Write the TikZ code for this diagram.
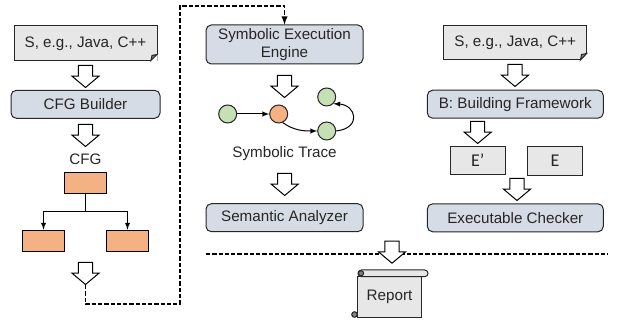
\documentclass[tikz,border=0pt]{standalone}
\usepackage{fontspec}
\setmainfont{Liberation Sans}
\newfontfamily\calibrifont{Carlito}
\usetikzlibrary{shapes.arrows}
\definecolor{linegray}{HTML}{262626}
\definecolor{docgray}{HTML}{E7E7E7}
\definecolor{boxblue}{HTML}{D6DCE5}
\definecolor{cfgorange}{HTML}{F4B183}
\definecolor{tracegreen}{HTML}{C5E0B4}
\tikzset{
  every node/.style={inner sep=0pt, text=linegray, font=\fontsize{11.4}{14}\selectfont},
  shortdash/.style={line width=1.1pt, dash pattern=on 3.2pt off 1.5pt},
  docbox/.style={shape=rectangle, draw=linegray, fill=docgray, minimum width=107.25pt, minimum height=26pt},
  stagebox/.style={shape=rectangle, rounded corners=4pt, draw=linegray, fill=boxblue, minimum height=21pt, align=center},
  cfgbox/.style={shape=rectangle, draw=black, fill=cfgorange, minimum width=31.5pt, minimum height=16pt},
  envbox/.style={shape=rectangle, draw=linegray, fill=docgray, minimum width=41pt, minimum height=21.3pt, font=\calibrifont\fontsize{13.5}{14}\selectfont},
  tracenode/.style={shape=circle, draw=linegray, fill=tracegreen, minimum size=13.5pt},
  bigarrow/.style={shape=single arrow, shape border rotate=270, draw=black, fill=white, anchor=tail, inner sep=4.9pt,
    minimum height=16.5pt, minimum width=19.5pt, single arrow head extend=4.9pt, single arrow tip angle=100},
}
\begin{document}
\begin{tikzpicture}[line width=0.75pt, x=0.75pt, y=-0.75pt, >=latex]
    \useasboundingbox (0, 0) rectangle (623, 323);

    % left column
    \node[docbox] (sourceA) at (85.5, 43.3) {S, e.g., Java, C++};
    \fill[white] (157.7, 54) -- (157.7, 61.5) -- (150, 61.5) -- cycle;
    \draw[linegray, fill=gray] (157, 54.5) -- (151, 60.5) -- (152, 55.5) -- cycle;
    \node[bigarrow] (arrowA) at (85.5, 65) {};
    \node[stagebox, minimum width=111.75pt] (builder) at (85.5, 104.3) {CFG Builder};
    \node[bigarrow] (arrowB) at (85.5, 124) {};
    \node (cfg) at (85.5, 159) {CFG};
    \node[cfgbox] (cfgtop) at (85.5, 183.3) {};
    \node[cfgbox] (cfgleft) at (43.5, 240.8) {};
    \node[cfgbox] (cfgright) at (127.5, 240.8) {};
    \coordinate (branch) at (85.5, 212);
    \draw (cfgtop) -- (branch);
    \draw[->] (branch) -| (cfgleft.north);
    \draw[->] (branch) -| (cfgright.north);
    \node[bigarrow] (arrowC) at (85.5, 262) {};

    % dashed link to the middle column
    \coordinate (turnA) at (180, 304);
    \coordinate (turnB) at (180, 6);

    % middle column
    \node[stagebox, minimum width=117.75pt, minimum height=29.25pt] (engine) at (284.5, 44.5) {Symbolic Execution\\Engine};
    \draw[->, shortdash] (arrowC.tip) |- (turnA) -- (turnB) -| (engine.north);
    \node[bigarrow] (arrowD) at (284.5, 75) {};
    \node[tracenode] (traceA) at (227.7, 114) {};
    \node[tracenode, fill=cfgorange] (traceB) at (278.7, 114) {};
    \node[tracenode] (traceC) at (326.7, 131) {};
    \node[tracenode] (traceD) at (326.7, 97) {};
    \draw[->] (traceA) edge (traceB);
    \draw[->] (traceB.-65) to[out=-35, in=180] (traceC.west);
    \draw[->] (traceC.east) .. controls (362, 128) and (356, 105) .. (traceD.south east);
    \node (trace) at (284.5, 154) {Symbolic Trace};
    \node[bigarrow] (arrowE) at (284.7, 173) {};
    \node[stagebox, minimum width=117.75pt] (analyzer) at (284.5, 217.7) {Semantic Analyzer};

    % right column
    \node[docbox] (sourceB) at (515.2, 42.5) {S, e.g., Java, C++};
    \fill[white] (587.4, 53) -- (587.4, 60.7) -- (579.5, 60.7) -- cycle;
    \draw[linegray, fill=gray] (586.7, 53.5) -- (580.5, 60) -- (581.5, 54.5) -- cycle;
    \node[bigarrow] (arrowF) at (515, 64) {};
    \node[stagebox, minimum width=132pt] (framework) at (515.3, 104.2) {B: Building Framework};
    \node[bigarrow] (arrowG) at (477.7, 121) {};
    \node[envbox] (edited) at (477.7, 160.5) {E’};
    \node[envbox] (original) at (555, 161.2) {E};
    \node[bigarrow] (arrowH) at (517, 178) {};
    \node[stagebox, minimum width=132pt] (checker) at (515.3, 217.8) {Executable Checker};

    % report
    \coordinate (ruleA) at (206, 254);
    \coordinate (ruleB) at (608, 254);
    \draw[shortdash] (ruleA) -- (ruleB);
    \node[bigarrow] (arrowI) at (392, 240.7) {};
    \node[shape=rectangle, draw=linegray, fill=docgray, minimum width=48.3pt, minimum height=31pt] (report) at (389.5, 297.2) {Report};
    \draw[linegray, fill=docgray, rounded corners=2.5pt] (358, 270) rectangle (428, 276.7);
    \draw[linegray, fill=gray] (361, 273.3) circle (2.6);
    \draw[linegray, fill=gray] (354.5, 314.5) circle (2.8);
\end{tikzpicture}
\end{document}
